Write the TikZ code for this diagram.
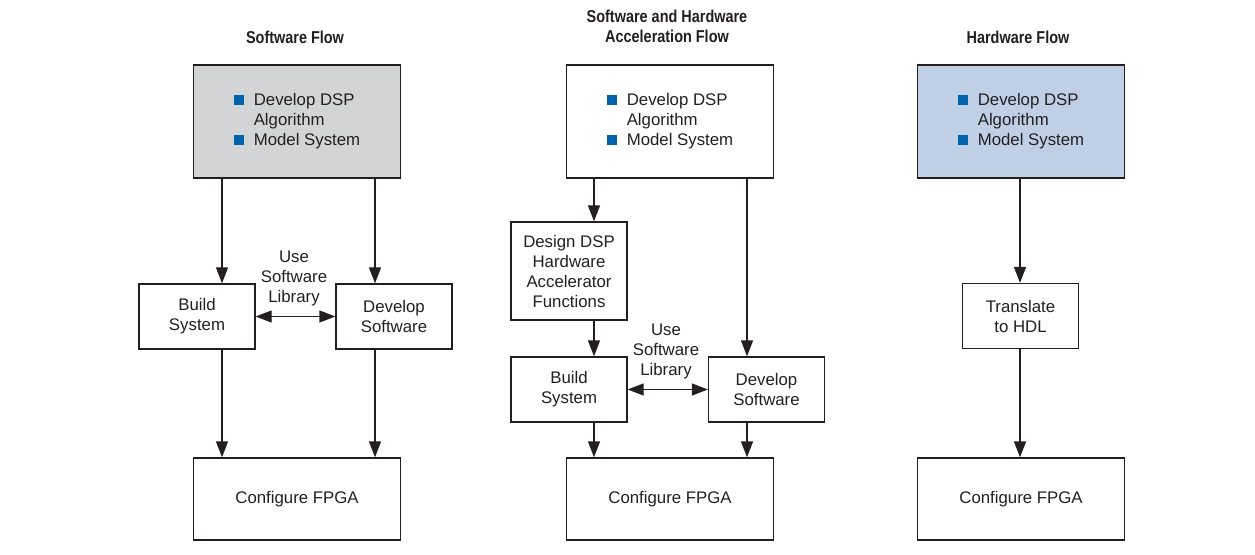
\documentclass[tikz,border=0pt]{standalone}
\usepackage{fontspec}
\setmainfont{Liberation Sans}
\newfontfamily\condfont{Liberation Sans}[FakeStretch=0.84]
\usetikzlibrary{arrows.meta}

\definecolor{inkgray}{HTML}{231F20}
\definecolor{swgray}{HTML}{D3D4D6}
\definecolor{hwblue}{HTML}{BFD0E6}
\definecolor{bulletblue}{HTML}{0063A9}

\newcommand{\bodyfont}{\fontsize{12.6}{15}\selectfont}
\newcommand{\titlefont}{\condfont\fontsize{12.9}{15}\selectfont\bfseries}
\newcommand{\sqbullet}{\textcolor{bulletblue}{\raisebox{0.6pt}{\rule{7.5pt}{7.5pt}}}}
\newcommand{\dsplist}{\begin{tabular}{@{}c@{\hspace{7.5pt}}l@{}}
\sqbullet & Develop DSP\\
 & Algorithm\\
\sqbullet & Model System
\end{tabular}}

\begin{document}
\begin{tikzpicture}[x=0.75pt,y=-0.75pt,
	box/.style={draw=inkgray, line width=1pt, inner sep=0pt, align=center, text=inkgray, font=\bodyfont},
	smallbox/.style={box, minimum width=87pt, minimum height=48.75pt},
	topbox/.style={box, minimum width=155pt, minimum height=84.75pt},
	cfgbox/.style={box, minimum width=155pt, minimum height=61.5pt},
	flowtitle/.style={align=center, text=inkgray, font=\titlefont},
	note/.style={align=center, text=inkgray, font=\bodyfont},
	arr/.style={draw=inkgray, line width=1pt, -{Triangle[length=12pt,width=9pt]}},
	dblarr/.style={draw=inkgray, line width=1pt, {Triangle[length=12pt,width=9pt]}-{Triangle[length=12pt,width=9pt]}}]
	\useasboundingbox (0,0) rectangle (1255,555);
	
	% titles
	\node[flowtitle] (swtitle) at (295,37) {Software Flow};
	\node[flowtitle] (swhwtitle) at (667,26) {Software and Hardware\\Acceleration Flow};
	\node[flowtitle] (hwtitle) at (1018,37) {Hardware Flow};
	
	% software flow
	\node[topbox, fill=swgray] (topL) at (297,121.5) {\dsplist};
	\node[smallbox] (buildL) at (197,316.5) {Build\\System};
	\node[smallbox] (devL) at (394,316.5) {Develop\\Software};
	\node[cfgbox] (cfgL) at (297,499) {Configure FPGA};
	\node[note] (libL) at (294,278) {Use\\Software\\Library};
	\coordinate (lA) at (222,0);
	\coordinate (lB) at (375,0);
	\draw[arr] (topL.south -| lA) -- (buildL.north -| lA);
	\draw[arr] (topL.south -| lB) -- (devL.north -| lB);
	\draw[arr] (buildL.south -| lA) -- (cfgL.north -| lA);
	\draw[arr] (devL.south -| lB) -- (cfgL.north -| lB);
	\draw[dblarr] (buildL.east) -- (devL.west);
	
	% software and hardware acceleration flow
	\node[topbox] (topM) at (670,121.5) {\dsplist};
	\node[smallbox, minimum height=73.5pt] (designM) at (569,271) {Design DSP\\Hardware\\Accelerator\\Functions};
	\node[smallbox] (buildM) at (569,389.5) {Build\\System};
	\node[smallbox] (devM) at (766.5,389.5) {Develop\\Software};
	\node[cfgbox] (cfgM) at (670,499) {Configure FPGA};
	\node[note] (libM) at (666,351) {Use\\Software\\Library};
	\coordinate (mA) at (594,0);
	\coordinate (mB) at (747,0);
	\draw[arr] (topM.south -| mA) -- (designM.north -| mA);
	\draw[arr] (designM.south -| mA) -- (buildM.north -| mA);
	\draw[arr] (topM.south -| mB) -- (devM.north -| mB);
	\draw[arr] (buildM.south -| mA) -- (cfgM.north -| mA);
	\draw[arr] (devM.south -| mB) -- (cfgM.north -| mB);
	\draw[dblarr] (buildM.east) -- (devM.west);
	
	% hardware flow
	\node[topbox, fill=hwblue] (topR) at (1021,121.5) {\dsplist};
	\node[smallbox] (transR) at (1020.5,316) {Translate\\to HDL};
	\node[cfgbox] (cfgR) at (1021,499) {Configure FPGA};
	\coordinate (rA) at (1020,0);
	\draw[arr] (topR.south -| rA) -- (transR.north -| rA);
	\draw[arr] (transR.south -| rA) -- (cfgR.north -| rA);
\end{tikzpicture}
\end{document}
